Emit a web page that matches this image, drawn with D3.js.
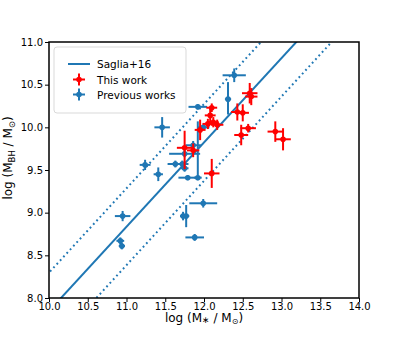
<!DOCTYPE html>
<html><head><meta charset="utf-8">
<script src="https://cdn.jsdelivr.net/npm/d3@7"></script>
<style>body{margin:0;background:#fff}svg{display:block}text{font-family:"DejaVu Sans",sans-serif}</style>
</head><body><svg id="c" width="399" height="342"></svg>
<script>
// This work (red)
const thisX    = [12.59,12.61,12.43,12.50,12.57,12.48,12.92,13.02,12.10,12.08,12.12,12.05,12.17,11.95,11.75,11.86,12.10];
const thisY    = [10.40,10.36,10.18,10.17,9.99,9.91,9.95,9.86,10.23,10.14,10.06,10.04,10.03,9.97,9.76,9.73,9.46];
const thisXErr = [0.10,0.08,0.08,0.08,0.10,0.09,0.10,0.10,0.07,0.07,0.07,0.07,0.08,0.07,0.10,0.08,0.10];
const thisYLo  = [0.12,0.10,0.10,0.10,0.05,0.12,0.12,0.13,0.05,0.08,0.06,0.06,0.06,0.12,0.25,0.08,0.17];
const thisYHi  = [0.12,0.10,0.10,0.10,0.05,0.12,0.12,0.13,0.05,0.08,0.06,0.06,0.06,0.12,0.20,0.08,0.17];
// Previous works (blue)
const prevX    = [12.39,12.31,11.92,11.46,11.24,11.41,11.86,11.75,11.63,11.72,11.75,11.79,11.92,11.99,11.77,11.73,11.88,10.95,10.92,10.94,11.99];
const prevY    = [10.61,10.33,10.24,10.00,9.56,9.45,9.79,9.69,9.57,9.57,9.52,9.41,9.41,9.11,8.96,8.96,8.71,8.96,8.67,8.61,10.00];
const prevXErr = [0.15,0.04,0.12,0.10,0.07,0.06,0.10,0.20,0.10,0.08,0.05,0.12,0.05,0.18,0.04,0.04,0.12,0.10,0.05,0.04,0.08];
const prevYLo  = [0.08,0.18,0.03,0.12,0.06,0.08,0.05,0.04,0.04,0.04,0.04,0.03,0.03,0.05,0.13,0.05,0.04,0.06,0.04,0.04,0.03];
const prevYHi  = [0.08,0.20,0.03,0.12,0.06,0.08,0.05,0.04,0.04,0.04,0.04,0.03,0.66,0.05,0.13,0.05,0.04,0.06,0.04,0.04,0.03];
// Saglia+16 relation
const sagliaSlope = 0.988, sagliaIntercept = -2.033, sagliaScatter = 0.45;
const xDomain = [10, 14], yDomain = [8, 11];
const xTicks = [10.0,10.5,11.0,11.5,12.0,12.5,13.0,13.5,14.0];
const yTicks = [8.0,8.5,9.0,9.5,10.0,10.5,11.0];
const legendLabels = ["Saglia+16","This work","Previous works"];

const BLUE = "#1f77b4", RED = "#ff0000";
const svg = d3.select("#c");
const L = 49, R = 359, T = 42, B = 298;
const x = d3.scaleLinear().domain(xDomain).range([L, R]);
const y = d3.scaleLinear().domain(yDomain).range([B, T]);

svg.append("defs").append("clipPath").attr("id","clip")
  .append("rect").attr("x",L).attr("y",T).attr("width",R-L).attr("height",B-T);

const plot = svg.append("g").attr("clip-path","url(#clip)");
// relation lines
const line = d3.line().x(d=>x(d[0])).y(d=>y(d[1]));
[[0,null],[sagliaScatter,"1.8,3.1"],[-sagliaScatter,"1.8,3.1"]].forEach(([off,dash])=>{
  const pts = [9.5,14.5].map(v=>[v, sagliaIntercept + sagliaSlope*v + off]);
  plot.append("path").attr("d",line(pts)).attr("fill","none").attr("stroke",BLUE)
    .attr("stroke-width",2).attr("stroke-dasharray",dash);
});

function drawSeries(X,Y,XE,YL,YH,color){
  const g = plot.append("g");
  X.forEach((xv,i)=>{
    const yv=Y[i];
    g.append("line").attr("x1",x(xv-XE[i])).attr("x2",x(xv+XE[i])).attr("y1",y(yv)).attr("y2",y(yv))
      .attr("stroke",color).attr("stroke-width",2);
    g.append("line").attr("x1",x(xv)).attr("x2",x(xv)).attr("y1",y(yv-YL[i])).attr("y2",y(yv+YH[i]))
      .attr("stroke",color).attr("stroke-width",2);
  });
  X.forEach((xv,i)=>{
    g.append("circle").attr("cx",x(xv)).attr("cy",y(Y[i])).attr("r",2.8).attr("fill",color);
  });
}
drawSeries(prevX,prevY,prevXErr,prevYLo,prevYHi,BLUE);
drawSeries(thisX,thisY,thisXErr,thisYLo,thisYHi,RED);

// axes
const xMinor = d3.range(10,14.001,0.1);
const yMinor = d3.range(8,11.001,0.1);
const xa = svg.append("g").attr("transform",`translate(0,${B})`);
xa.call(d3.axisBottom(x).tickValues(xMinor).tickSize(2.5).tickFormat(""));
xa.call(d3.axisBottom(x).tickValues(xTicks).tickSize(4).tickPadding(1).tickFormat(d3.format(".1f")));
const ya = svg.append("g").attr("transform",`translate(${L},0)`);
ya.call(d3.axisLeft(y).tickValues(yMinor).tickSize(2.5).tickFormat(""));
ya.call(d3.axisLeft(y).tickValues(yTicks).tickSize(4).tickPadding(2).tickFormat(d3.format(".1f")));
svg.selectAll(".domain").remove();
svg.selectAll(".tick line").attr("stroke","#000").attr("stroke-width",1);
svg.selectAll(".tick text").attr("fill","#000").style("font-size","10px").style("font-family","DejaVu Sans");

svg.append("rect").attr("x",L).attr("y",T).attr("width",R-L).attr("height",B-T)
  .attr("fill","none").attr("stroke","#000").attr("stroke-width",1.5);

// axis labels
const xl = svg.append("text").attr("x",(L+R)/2).attr("y",322).attr("text-anchor","middle").style("font-size","12px");
xl.append("tspan").text("log (M");
xl.append("tspan").attr("dy",1).style("font-size","9px").text("∗");
xl.append("tspan").attr("dy",-1).text(" / M");
xl.append("tspan").attr("dy",2).style("font-size","8px").text("⊙");
xl.append("tspan").attr("dy",-2).text(")");

const yl = svg.append("text").attr("transform","translate(12,158) rotate(-90)").attr("text-anchor","middle").style("font-size","12px");
yl.append("tspan").text("log (M");
yl.append("tspan").attr("dy",3).style("font-size","8.5px").text("BH");
yl.append("tspan").attr("dy",-3).text(" / M");
yl.append("tspan").attr("dy",3).style("font-size","8.5px").text("⊙");
yl.append("tspan").attr("dy",-3).text(")");

// legend
const lg = svg.append("g");
lg.append("rect").attr("x",54).attr("y",47).attr("width",132).attr("height",66).attr("rx",3)
  .attr("fill","#fff").attr("fill-opacity",0.8).attr("stroke","#d9d9d9").attr("stroke-width",1);
const rows = [64,79.5,94.5];
lg.append("line").attr("x1",68).attr("x2",90).attr("y1",rows[0]).attr("y2",rows[0]).attr("stroke",BLUE).attr("stroke-width",2);
[[RED,rows[1]],[BLUE,rows[2]]].forEach(([c,yy])=>{
  lg.append("line").attr("x1",73).attr("x2",85).attr("y1",yy).attr("y2",yy).attr("stroke",c).attr("stroke-width",2);
  lg.append("line").attr("x1",79).attr("x2",79).attr("y1",yy-6).attr("y2",yy+6).attr("stroke",c).attr("stroke-width",2);
  lg.append("circle").attr("cx",79).attr("cy",yy).attr("r",2.8).attr("fill",c);
});
legendLabels.forEach((t,i)=>{
  lg.append("text").attr("x",97).attr("y",rows[i]+4).style("font-size","10.5px").attr("fill","#000").text(t);
});
</script></body></html>
